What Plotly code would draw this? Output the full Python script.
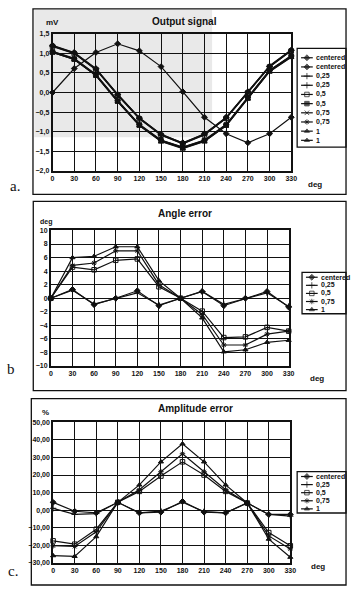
import plotly.graph_objects as go

W, H = 353, 590

# ---------------- data ----------------
deg = [0, 30, 60, 90, 120, 150, 180, 210, 240, 270, 300, 330]

# (a) Output signal, mV
a_names = ["centered", "centered", "0,25", "0,25", "0,5", "0,5", "0,75", "0,75", "1", "1"]
a_centered_sin = [0.0, 0.61, 1.02, 1.24, 1.06, 0.66, 0.02, -0.63, -1.05, -1.28, -1.05, -0.63]
a_centered_cos = [1.20, 1.02, 0.61, -0.05, -0.65, -1.07, -1.28, -1.05, -0.63, 0.02, 0.67, 1.08]
a_025_1 = [1.18, 1.00, 0.59, -0.06, -0.66, -1.08, -1.30, -1.07, -0.65, 0.00, 0.66, 1.07]
a_025_2 = [1.04, 0.86, 0.45, -0.21, -0.82, -1.22, -1.40, -1.22, -0.82, -0.13, 0.56, 0.93]
a_05_1 = [1.17, 0.99, 0.58, -0.07, -0.67, -1.09, -1.31, -1.08, -0.66, -0.01, 0.65, 1.06]
a_05_2 = [1.03, 0.85, 0.44, -0.22, -0.83, -1.23, -1.41, -1.23, -0.83, -0.14, 0.55, 0.92]
a_075_1 = [1.02, 0.84, 0.43, -0.23, -0.84, -1.24, -1.42, -1.24, -0.84, -0.15, 0.54, 0.91]
a_075_2 = [1.05, 0.87, 0.46, -0.20, -0.81, -1.21, -1.39, -1.21, -0.81, -0.12, 0.57, 0.94]
a_1_1 = [1.19, 1.01, 0.60, -0.04, -0.64, -1.06, -1.29, -1.06, -0.64, 0.01, 0.68, 1.09]
a_1_2 = [1.02, 0.84, 0.43, -0.23, -0.84, -1.25, -1.43, -1.25, -0.85, -0.16, 0.53, 0.90]
a_series = [a_centered_sin, a_centered_cos, a_025_1, a_025_2, a_05_1, a_05_2,
            a_075_1, a_075_2, a_1_1, a_1_2]

# (b) Angle error, deg
b_names = ["centered", "0,25", "0,5", "0,75", "1"]
b_centered = [0, 1.3, -0.95, 0.0, 1.1, -1.1, 0, 1.0, -1.1, 0.0, 1.0, -1.3]
b_025 = [0, 1.2, -0.85, 0.0, 0.8, -1.0, 0, 1.0, -0.9, 0.0, 0.8, -1.2]
b_05 = [0, 4.6, 4.2, 5.6, 5.8, 1.7, 0, -1.9, -5.8, -5.7, -4.3, -4.85]
b_075 = [0, 4.85, 5.2, 7.0, 7.0, 2.0, 0, -2.4, -6.9, -6.9, -5.3, -4.85]
b_1 = [0, 6.0, 6.2, 7.6, 7.6, 2.6, 0, -2.9, -7.9, -7.6, -6.5, -6.2]
b_series = [b_centered, b_025, b_05, b_075, b_1]

# (c) Amplitude error, %
c_names = ["centered", "0,25", "0,5", "0,75", "1"]
c_centered = [4.5, -0.6, -1.5, 4.5, -1.5, -1.1, 5.0, -1.1, -1.5, 4.1, -2.4, -2.4]
c_025 = [1.1, -2.4, -1.9, 4.5, -1.5, -0.5, 4.5, -0.8, -1.5, 4.1, -2.4, -3.4]
c_05 = [-17.4, -19.3, -10.8, 4.5, 10.7, 19.4, 27.5, 20.0, 10.7, 4.1, -12.7, -20.2]
c_075 = [-20.2, -20.6, -12.3, 4.5, 11.6, 21.9, 32.1, 21.9, 11.6, 4.1, -14.6, -22.0]
c_1 = [-25.8, -26.2, -15.0, 4.5, 14.4, 27.5, 37.8, 27.5, 14.4, 4.1, -16.4, -26.7]
c_series = [c_centered, c_025, c_05, c_075, c_1]

# ---------------- style ----------------
a_symbols = ["diamond", "diamond", "cross-thin-open", "cross-thin-open", "square-open",
             "square", "x-thin-open", "asterisk-open", "triangle-up", "triangle-up"]
bc_symbols = ["diamond", "cross-thin-open", "square-open", "asterisk-open", "triangle-up"]

FONT = "Liberation Sans"
BLACK = "#111111"


def px(x):
    return x / W


def py(y):
    return 1 - y / H


fig = go.Figure()

# plot areas in pixels: (x_left, x_right, y_top, y_bottom)
panels = {
    "a": dict(box=(51.7, 296.0, 30.0, 169.3), yr=[-2.0, 1.5], dt=0.5, fmt=".1f"),
    "b": dict(box=(50.0, 293.3, 229.6, 367.0), yr=[-10, 10], dt=2, fmt="d"),
    "c": dict(box=(52.3, 295.0, 424.0, 566.7), yr=[-30, 50], dt=10, fmt=".2f"),
}
axis_ids = {"a": ("x", "y", "xaxis", "yaxis"),
            "b": ("x2", "y2", "xaxis2", "yaxis2"),
            "c": ("x3", "y3", "xaxis3", "yaxis3")}

layout_axes = {}
for key, p in panels.items():
    xl, xr, yt, yb = p["box"]
    xa, ya, xn, yn = axis_ids[key]
    layout_axes[xn] = dict(
        domain=[px(xl), px(xr)], range=[0, 330], tick0=0, dtick=30,
        showgrid=True, gridcolor=BLACK, gridwidth=1.2, zeroline=False,
        showline=True, linecolor=BLACK, linewidth=1.6, mirror=True,
        ticks="", anchor=ya, tickfont=dict(family=FONT, size=7, color=BLACK, weight="bold"),
        fixedrange=True,
    )
    layout_axes[yn] = dict(
        domain=[py(yb), py(yt)], range=p["yr"], tick0=0, dtick=p["dt"],
        tickformat=p["fmt"],
        showgrid=True, gridcolor=BLACK, gridwidth=1.2, zeroline=False,
        showline=True, linecolor=BLACK, linewidth=1.6, mirror=True,
        ticks="", anchor=xa, tickfont=dict(family=FONT, size=7, color=BLACK, weight="bold"),
        fixedrange=True,
    )

# overlay pixel axis for legend glyphs
layout_axes["xaxis4"] = dict(domain=[0, 1], range=[0, W], visible=False, fixedrange=True, anchor="y4")
layout_axes["yaxis4"] = dict(domain=[0, 1], range=[H, 0], visible=False, fixedrange=True, anchor="x4")


def add_series(series, names, symbols, xa, ya):
    for vals, nm, sym in zip(series, names, symbols):
        fig.add_trace(go.Scatter(
            x=deg, y=vals, name=nm, mode="lines+markers", xaxis=xa, yaxis=ya,
            line=dict(color=BLACK, width=1.2),
            marker=dict(symbol=sym, size=4.5, color=BLACK,
                        line=dict(color=BLACK, width=1)),
            showlegend=False, cliponaxis=False,
        ))


add_series(a_series, a_names, a_symbols, "x", "y")
add_series(b_series, b_names, bc_symbols, "x2", "y2")
add_series(c_series, c_names, bc_symbols, "x3", "y3")

shapes = []
annotations = []

# scan-grey tone in the upper-left part of panel a
shapes.append(dict(type="rect", xref="paper", yref="paper",
                   x0=px(33), x1=px(215), y0=py(135), y1=py(6),
                   line=dict(width=0), fillcolor="#e9e9e9", layer="below"))


def manual_legend(names, symbols, x0, x1, y0, y1, first, step):
    shapes.append(dict(type="rect", xref="paper", yref="paper",
                       x0=px(x0), x1=px(x1), y0=py(y1), y1=py(y0),
                       line=dict(color=BLACK, width=1.3), fillcolor="white", layer="below"))
    for i, (nm, sym) in enumerate(zip(names, symbols)):
        yy = first + i * step
        fig.add_trace(go.Scatter(
            x=[x0 + 4, x0 + 10, x0 + 16], y=[yy, yy, yy], mode="lines+markers",
            xaxis="x4", yaxis="y4", line=dict(color=BLACK, width=1.2),
            marker=dict(symbol=sym, size=[0, 4.5, 0], color=BLACK, line=dict(color=BLACK, width=1)),
            showlegend=False, hoverinfo="skip", cliponaxis=False,
        ))
        annotations.append(dict(
            x=px(x0 + 17), y=py(yy), xref="paper", yref="paper", text=nm,
            showarrow=False, xanchor="left", yanchor="middle",
            font=dict(family=FONT, size=7, color=BLACK, weight="bold")))


manual_legend(a_names, a_symbols, 302, 352, 45, 145, 54.5, 9.3)
manual_legend(b_names, bc_symbols, 307, 352, 272, 314, 277, 8.2)
manual_legend(c_names, bc_symbols, 302, 352, 474, 516, 479, 8.2)

# outer frames of the three charts
for (x0, y0, x1, y1) in [(31.7, 5, 352, 193), (32, 200, 352, 392), (30, 400, 352, 589)]:
    shapes.append(dict(type="rect", xref="paper", yref="paper",
                       x0=px(x0), x1=px(x1), y0=py(y1), y1=py(y0),
                       line=dict(color=BLACK, width=1.3), layer="below"))


def txt(x, y, s, size, xanchor="center", family=FONT, weight="bold"):
    annotations.append(dict(x=px(x), y=py(y), xref="paper", yref="paper", text=s,
                            showarrow=False, xanchor=xanchor, yanchor="middle",
                            font=dict(family=family, size=size, color=BLACK, weight=weight)))


txt(187, 18, "Output signal", 10)
txt(187, 212, "Angle error", 10)
txt(198, 410, "Amplitude error", 10)
txt(52, 19, "mV", 8)
txt(45, 221, "deg", 7)
txt(44, 414, "%", 8)
txt(320, 183, "deg", 8)
txt(322, 380, "deg", 8)
txt(323, 570, "deg", 8)
txt(13, 184, "a.", 15, family="Liberation Serif", weight="normal")
txt(9, 370, "b", 15, family="Liberation Serif", weight="normal")
txt(11, 575, "c.", 15, family="Liberation Serif", weight="normal")

fig.update_layout(
    width=W, height=H, margin=dict(l=0, r=0, t=0, b=0),
    paper_bgcolor="white", plot_bgcolor="rgba(0,0,0,0)",
    separators=", ", showlegend=False,
    shapes=shapes, annotations=annotations,
    **layout_axes,
)

fig.write_html("out.html", config={"displayModeBar": False},
               post_script="document.body.style.margin='0';")
